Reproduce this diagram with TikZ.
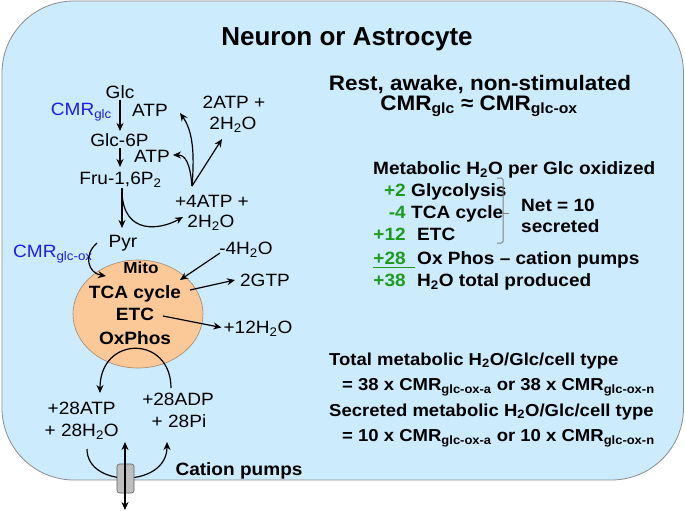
\documentclass[tikz,border=0pt]{standalone}
\usepackage{fontspec}
\setmainfont{Liberation Sans}[FakeStretch=1.07]
\newfontfamily\titlefont{Liberation Sans}
\usetikzlibrary{arrows.meta,shapes.geometric}
\definecolor{cellblue}{RGB}{204,235,252}
\definecolor{cellline}{RGB}{140,140,140}
\definecolor{mitofill}{RGB}{251,201,152}
\definecolor{mitoline}{RGB}{165,135,105}
\definecolor{cmrblue}{RGB}{30,30,230}
\definecolor{numgreen}{RGB}{30,155,30}
\newcommand{\sbs}[1]{\textsubscript{#1}}
\begin{document}
\begin{tikzpicture}[x=1pt,y=-1pt,
 txt/.style={inner sep=0pt,text height=12.7pt,text depth=0pt,font=\fontsize{17.8}{20}\selectfont},
 btxt/.style={inner sep=0pt,text height=12.7pt,text depth=0pt,font=\fontsize{17.8}{20}\selectfont\bfseries},
 bigtxt/.style={inner sep=0pt,text height=15pt,text depth=0pt,font=\fontsize{21}{24}\selectfont\bfseries},
 smtxt/.style={inner sep=0pt,text height=12.4pt,text depth=0pt,font=\fontsize{17.3}{20}\selectfont\bfseries},
 grn/.style={btxt,text=numgreen,anchor=east},
 arr/.style={-{Stealth[length=8pt,width=7pt]},line width=1.2pt},
]
\useasboundingbox (0,0) rectangle (685,511);
\draw[fill=cellblue,draw=cellline,line width=0.8pt,rounded corners=72pt] (2,1) rectangle (683.5,480);

% title
\node[inner sep=0pt,text height=18.6pt,text depth=0pt,font=\fontsize{26}{30}\titlefont\bfseries] (title) at (347,36.5) {Neuron or Astrocyte};

% glycolysis
\node[txt] (glc) at (120,92.5) {Glc};
\node[txt,text=cmrblue,anchor=east] (cmrglc) at (112,109.5) {CMR\sbs{glc}};
\node[txt] (atpa) at (150,110.5) {ATP};
\node[txt] (g6p) at (119.5,140) {Glc-6P};
\node[txt] (atpb) at (152,156) {ATP};
\node[txt] (fru) at (120.5,178.5) {Fru-1,6P\sbs{2}};
\node[txt] (atp4) at (212,201) {+4ATP +};
\node[txt] (h2oa) at (211,221.5) {2H\sbs{2}O};
\node[txt] (atp2) at (234,102) {2ATP +};
\node[txt] (h2ob) at (233,123.5) {2H\sbs{2}O};
\node[txt] (pyr) at (123,241) {Pyr};
\node[txt,text=cmrblue,anchor=west] (cmrox) at (13,251) {CMR\sbs{glc-ox}};

\coordinate (glcb) at (120,99.5);
\coordinate (g6pt) at (120,131);
\coordinate (g6pb) at (120,147.5);
\coordinate (frut) at (120,167);
\draw[arr] (glcb) -- (g6pt);
\draw[arr] (g6pb) -- (frut);
\coordinate (frub) at (122,188);
\coordinate (pyrt) at (122,228);
\draw[arr] (frub) -- (pyrt);
\coordinate (br) at (122,193);
\coordinate (atp4in) at (183,217);
\draw[arr] (br) .. controls (124,235) and (160,230) .. (atp4in);
\coordinate (atp4top) at (192,186);
\coordinate (atpaend) at (180,113);
\coordinate (atpbend) at (173,155);
\coordinate (h2obend) at (222,139);
\draw[arr] (atp4top) .. controls (195,150) and (192,130) .. (atpaend);
\draw[arr] (atp4top) .. controls (190,162) and (185,155) .. (atpbend);
\draw[arr] (atp4top) -- (h2obend);

% mitochondrion
\node[ellipse,draw=mitoline,fill=mitofill,line width=0.6pt,minimum width=130pt,minimum height=108pt,inner sep=0pt] (mito) at (138,314) {};
\node[inner sep=0pt,text height=11.5pt,text depth=0pt,font=\fontsize{16}{18}\selectfont\bfseries] (mitol) at (141,267.5) {Mito};
\node[btxt] (tca) at (135,292.5) {TCA cycle};
\node[btxt] (etc) at (135,314.5) {ETC};
\node[btxt] (oxp) at (135,338) {OxPhos};

\coordinate (pyrb) at (97,243);
\coordinate (mitoin) at (106,276);
\draw[arr] (pyrb) .. controls (83,255) and (88,273) .. (mitoin);

\node[txt] (h2oc) at (246,248) {-4H\sbs{2}O};
\node[txt] (gtp) at (265,280) {2GTP};
\node[txt] (h2od) at (258,327) {+12H\sbs{2}O};
\coordinate (h2ocs) at (220,253);
\coordinate (mitoin2) at (180,280);
\draw[arr] (h2ocs) -- (mitoin2);
\coordinate (tcaout) at (190,290);
\draw[arr] (tcaout) -- ([xshift=-5pt]gtp.west);
\coordinate (etcout) at (163,316);
\draw[arr] (etcout) -- ([xshift=-2pt,yshift=-0.5pt]h2od.west);

% ox phos / pumps
\node[txt] (atp28) at (81.7,408.5) {+28ATP};
\node[txt] (h2oe) at (81.7,430) {+ 28H\sbs{2}O};
\node[txt] (adp28) at (178,399.5) {+28ADP};
\node[txt] (pi28) at (179,421.5) {+ 28Pi};
\node[btxt] (pumps) at (239,469) {Cation pumps};

\coordinate (arcs) at (171,388);
\coordinate (arce) at (100,393);
\draw[arr] (arcs) .. controls (171,335) and (100,335) .. (arce);
\coordinate (barcs) at (87,449);
\coordinate (barce) at (167,442);
\draw[arr] (barcs) .. controls (87,488) and (167,488) .. (barce);

\node[draw=gray!75!black,fill=gray!50,rounded corners=2.5pt,line width=0.6pt,minimum width=17pt,minimum height=29pt,inner sep=0pt] (pump) at (125.5,478.5) {};
\coordinate (pumpt) at (125,442);
\coordinate (pumpb) at (125,510);
\draw[{Stealth[length=8pt,width=7pt]}-{Stealth[length=8pt,width=7pt]},line width=1.2pt] (pumpt) -- (pumpb);

% right text
\node[bigtxt] (rest) at (480,82.5) {Rest, awake, non-stimulated};
\node[bigtxt] (cmreq) at (479,102.5) {CMR\sbs{glc} ≈ CMR\sbs{glc-ox}};

\node[btxt,anchor=west] (metab) at (373,168) {Metabolic H\sbs{2}O per Glc oxidized};
\node[grn] (n2) at (406,190) {+2};
\node[btxt,anchor=west] (glyc) at (411,190) {Glycolysis};
\node[grn] (n4) at (406,212.5) {-4};
\node[btxt,anchor=west] (tcal) at (411,212.5) {TCA cycle};
\node[grn] (n12) at (406,234) {+12};
\node[btxt,anchor=west] (etcl) at (417,234) {ETC};
\node[grn] (n28) at (406,258) {+28};
\node[btxt,anchor=west] (oxl) at (417,258) {Ox Phos – cation pumps};
\node[grn] (n38) at (406,280) {+38};
\node[btxt,anchor=west] (totl) at (417,280) {H\sbs{2}O total produced};
\draw[numgreen,line width=1.8pt] (373,267.5) -- (415,267.5);

\draw[gray,line width=1pt,rounded corners=1.5pt] (497,178) -- (503,178) -- (503,243) -- (497,243);
\coordinate (brm) at (503,213);
\coordinate (brt) at (509,213);
\draw[gray,line width=1pt] (brm) -- (brt);
\node[btxt,anchor=west] (net) at (521,205) {Net = 10};
\node[btxt,anchor=west] (secr) at (521,226.5) {secreted};

\node[smtxt,anchor=west] (tot) at (329,359) {Total metabolic H\sbs{2}O/Glc/cell type};
\node[smtxt,anchor=west] (eq38) at (342,384) {= 38 x CMR\sbs{glc-ox-a} or 38 x CMR\sbs{glc-ox-n}};
\node[smtxt,anchor=west] (sec) at (329,410) {Secreted metabolic H\sbs{2}O/Glc/cell type};
\node[smtxt,anchor=west] (eq10) at (342,435.5) {= 10 x CMR\sbs{glc-ox-a} or 10 x CMR\sbs{glc-ox-n}};
\end{tikzpicture}
\end{document}
